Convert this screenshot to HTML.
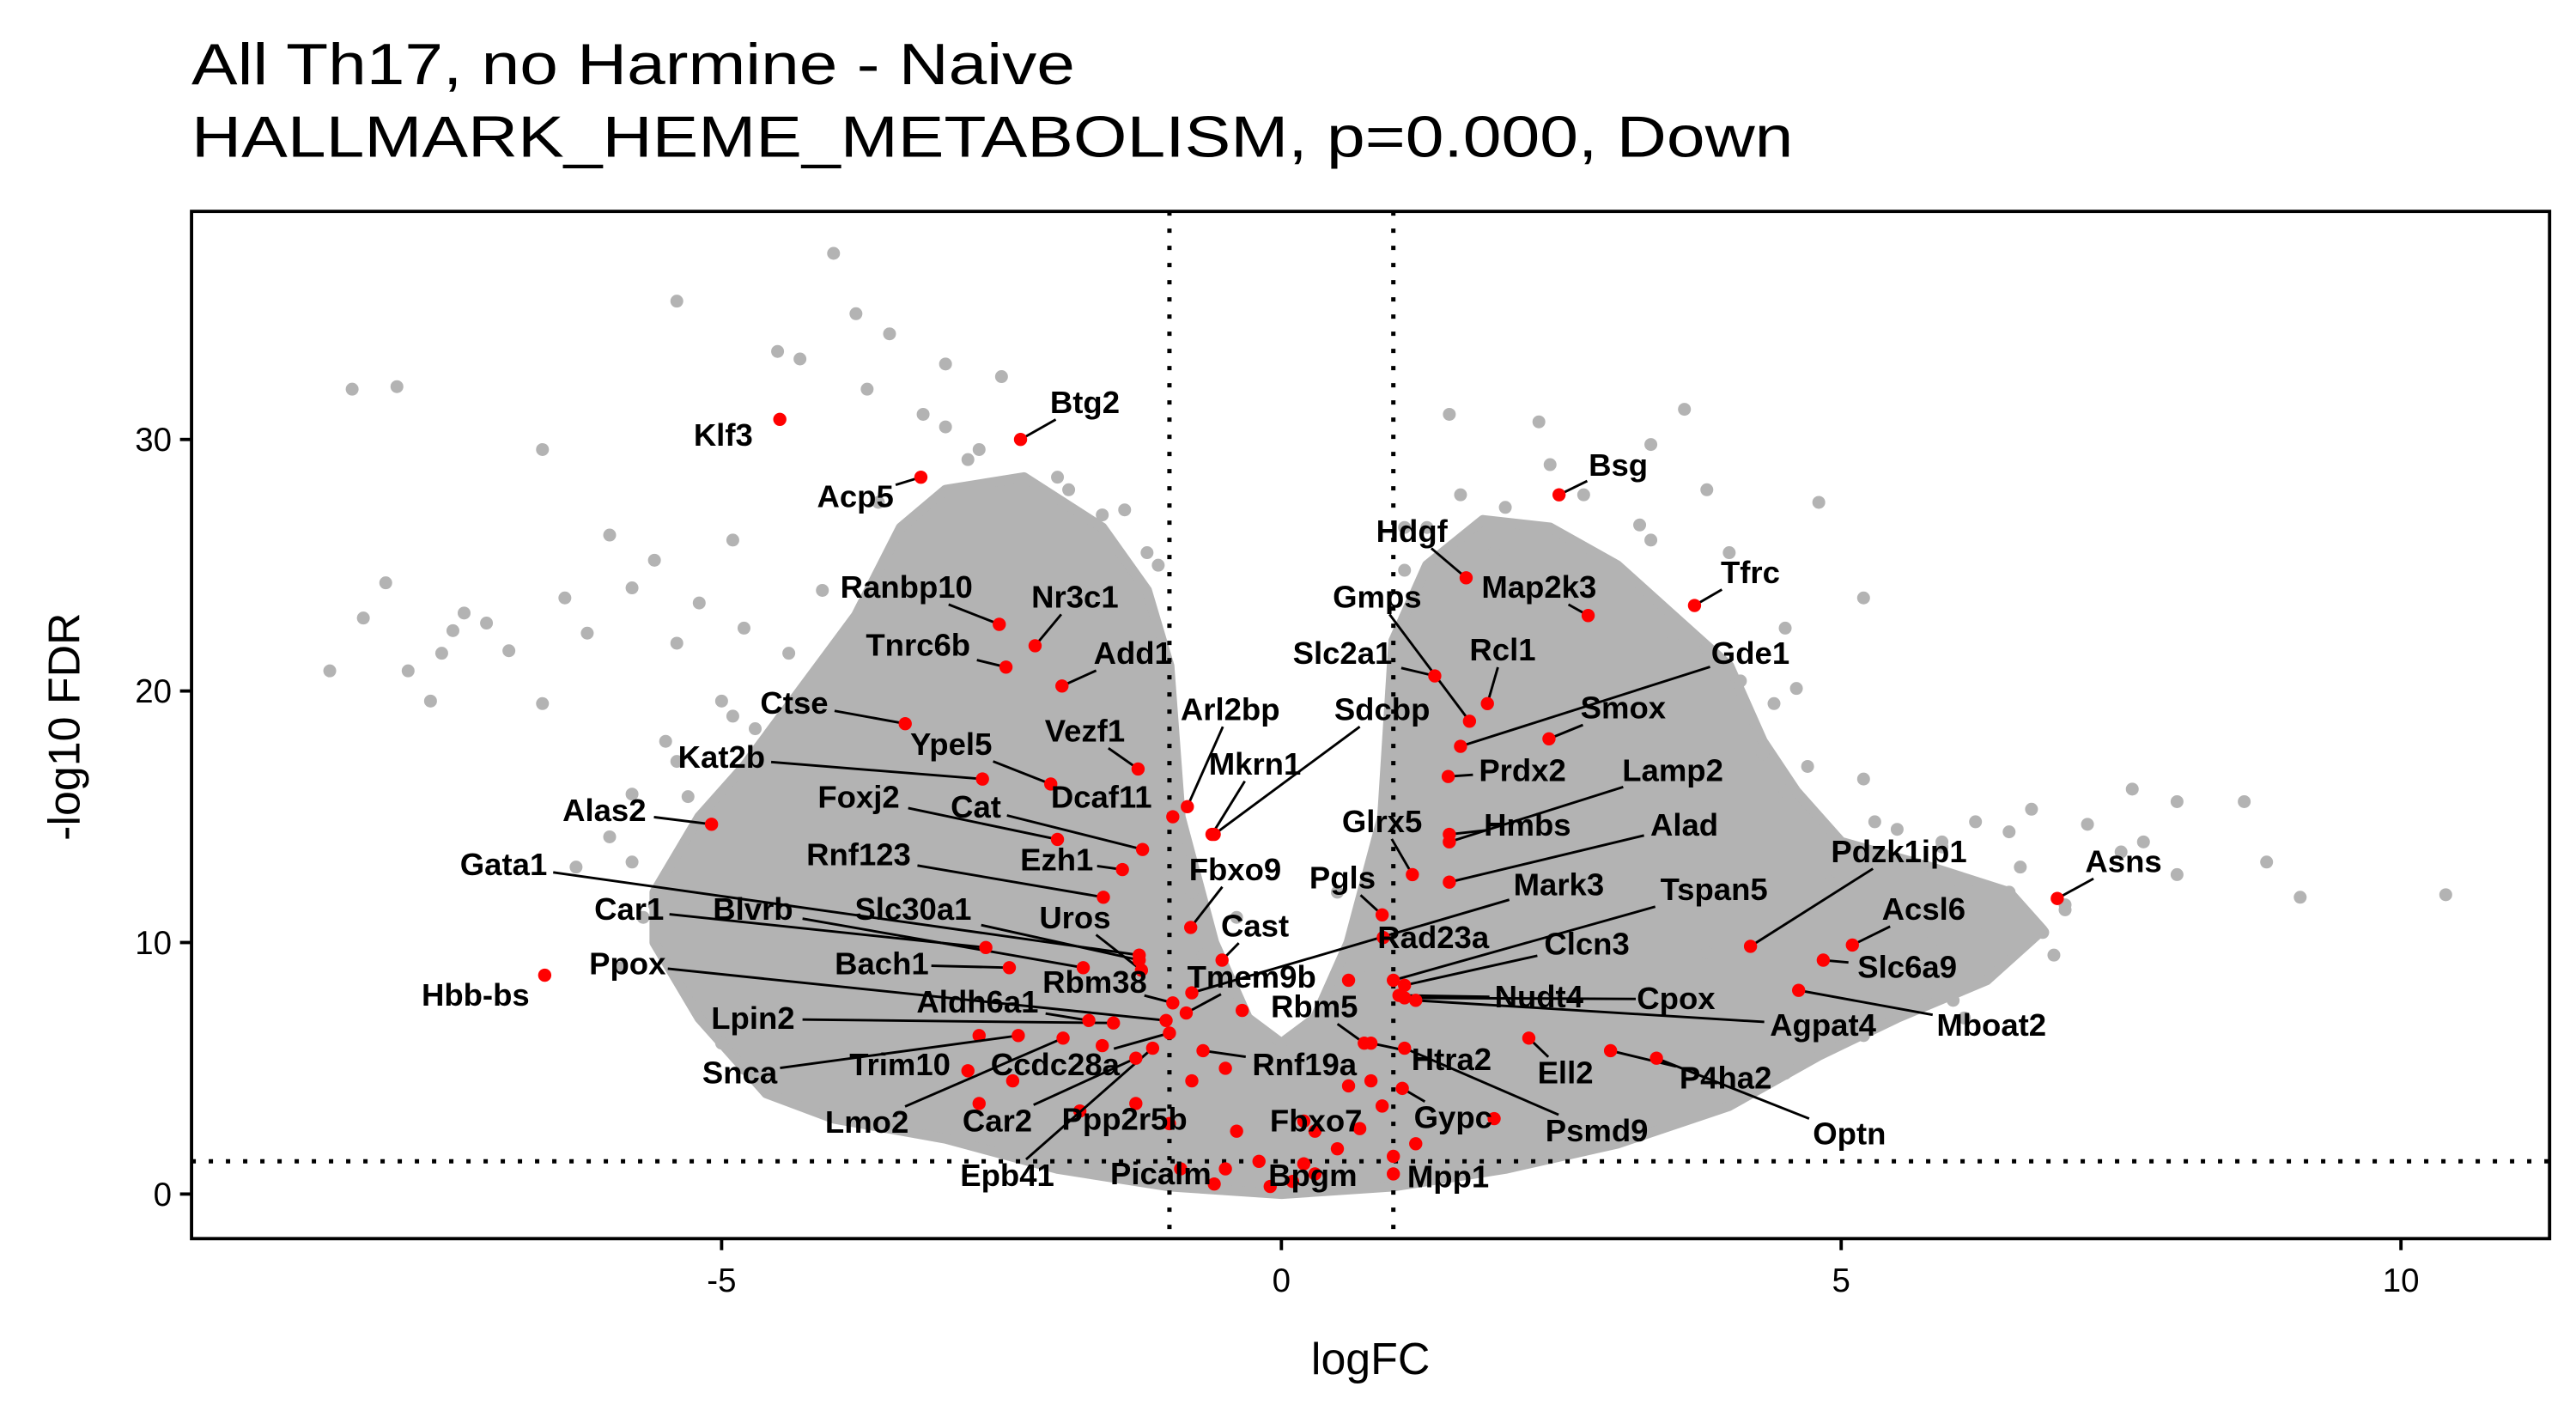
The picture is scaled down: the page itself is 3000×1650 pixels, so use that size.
<!DOCTYPE html>
<html><head><meta charset="utf-8"><style>
html,body{margin:0;padding:0;background:#fff}
svg{display:block}
</style></head><body>
<svg id="chart" width="3000" height="1650" viewBox="0 0 1560 858" xmlns="http://www.w3.org/2000/svg" font-family="Liberation Sans, Arial, sans-serif">
<text x="116" y="51" font-size="35" textLength="535" lengthAdjust="spacingAndGlyphs">All Th17, no Harmine - Naive</text>
<text x="116" y="95" font-size="35" textLength="970" lengthAdjust="spacingAndGlyphs">HALLMARK_HEME_METABOLISM, p=0.000, Down</text>
<g id="plot"></g>
<text x="830" y="832" font-size="27" text-anchor="middle">logFC</text>
<text transform="translate(48,440) rotate(-90)" font-size="27" text-anchor="middle">-log10 FDR</text>
</svg>
<script>
const xTicks=[-5,0,5,10];
const yTicks=[0,10,20,30];
const fcCut=[-1,1];
const fdrCut=[1.3];
// dense grey cloud outline (data coords)
const cloudX=[-4.6,-5.2,-5.6,-5.6,-5.2,-4.8,-4.3,-3.8,-3.4,-3.0,-2.3,-1.6,-1.2,-1.0,-0.9,-0.6,-0.3,0,0.3,0.6,0.9,1.0,1.3,1.8,2.4,3.0,3.5,4.0,4.3,4.6,5.0,5.8,6.5,6.8,6.3,5.5,4.8,4.0,3.0,2.0,1.0,0,-1.0,-2.0,-3.0,-4.0];
const cloudY=[4,7,10,12,15,17,20,23,26.5,28,28.5,26.5,24,21,15,10,7,6,7,10,15,22,25,26.8,26.5,25,23,21,18,16,14,13,12,10.5,8.5,7,5.5,3.5,2,1,0.3,0,0.3,1,2.2,3];
const greyX=[-8.5,-8.2,-8.0,-7.8,-7.6,-7.5,-7.4,-7.3,-7.1,-6.9,-6.6,-6.4,-6.2,-6.6,-8.3,-7.9,-6.0,-5.8,-5.6,-5.4,-5.2,-5.0,-5.5,-4.9,-4.8,-4.5,-5.4,-4.0,-3.8,-3.5,-3.0,-2.5,-4.3,-3.7,-3.2,-4.9,-5.8,-5.4,-6.0,-6.3,-5.6,-2.0,-1.6,-1.2,-3.0,-2.8,1.5,2.3,2.4,3.6,3.3,2.0,1.9,3.2,3.8,4.0,4.5,5.2,4.6,4.8,1.1,1.3,7.6,8.0,8.6,8.8,10.4,8.0,7.5,7.2,6.7,6.5,6.2,5.9,6.5,6.3,5.8,6.8,7.0,5.5,5.7,5.0,6.1,7.7,9.1,3.5,3.8,4.1,4.3,4.5,5.2,5.5,6.0,3.8,4.5,4.9,5.3,-0.7,0.7,-0.4,0.5,-5.9,-5.7,-5.8,-5.3,-4.7,-4.4,-4.1,-3.6,-2.7,-1.9,-1.4,-1.1,-0.8,0.8,1.1,1.6,2.7,3.3,4.4,4.7,5.3,5.9,6.6,7.0,6.9,6.0,5.2,4.5,-5.0,-4.8];
const greyY=[20.8,22.9,24.3,20.8,19.6,21.5,22.4,23.1,22.7,21.6,19.5,23.7,22.3,29.6,32,32.1,26.2,24.1,25.2,21.9,23.5,19.6,18.0,26.0,22.5,33.5,35.5,37.4,35.0,34.2,33.0,32.5,33.2,32,31,19.0,15.9,17.2,14.2,13.0,11.5,28.5,27.0,25.5,30.5,29.2,31,30.7,29,31.2,29.8,27.3,25.5,26.6,28.0,25.5,22.5,23.7,20.1,27.5,24.8,26.5,16.1,15.6,15.6,13.2,11.9,12.7,13.6,14.7,15.3,14.4,14.8,14.0,12.0,10.7,10.0,10.4,11.3,8.7,7.5,6.6,7.0,14.0,11.8,22.2,21.7,20.4,17.5,16.0,16.5,14.5,12.5,9.6,11.0,12.4,13.5,9.5,9.0,11.0,12.0,9.0,11.0,13.2,15.8,18.5,21.5,24.0,27.5,29.6,28.0,27.2,25.0,12.0,12.5,26.5,27.8,27.8,26.0,19.5,17.0,14.8,13.8,13.0,11.5,9.5,7.7,6.3,4.8,6.0,5.0];
const genes=["Klf3","Btg2","Acp5","Ranbp10","Nr3c1","Tnrc6b","Add1","Ctse","Vezf1","Ypel5","Kat2b","Alas2","Arl2bp","Mkrn1","Dcaf11","Sdcbp","Foxj2","Cat","Ezh1","Rnf123","Fbxo9","Glrx5","Pgls","Gata1","Car1","Blvrb","Slc30a1","Uros","Cast","Bach1","Hbb-bs","Ppox","Rbm38","Tmem9b","Mark3","Rad23a","Clcn3","Tspan5","Nudt4","Cpox","Agpat4","Mboat2","Slc6a9","Acsl6","Pdzk1ip1","Asns","Bsg","Tfrc","Hdgf","Map2k3","Gmps","Slc2a1","Rcl1","Gde1","Smox","Prdx2","Lamp2","Hmbs","Alad","Rbm5","Htra2","Ell2","P4ha2","Optn","Psmd9","Gypc","Mpp1","Bpgm","Fbxo7","Rnf19a","Picalm","Ppp2r5b","Epb41","Car2","Ccdc28a","Aldh6a1","Lpin2","Trim10","Snca","Lmo2"];
const geneFC=[-4.48,-2.33,-3.22,-2.52,-2.2,-2.46,-1.96,-3.36,-1.28,-2.06,-2.67,-5.09,-0.84,-0.62,-0.97,-0.6,-2.0,-1.24,-1.42,-1.59,-0.81,1.17,0.9,-1.27,-2.64,-1.77,-1.27,-1.25,-0.53,-2.43,-6.58,-1.03,-0.97,-0.85,-0.8,0.91,1.1,1.0,1.05,1.1,1.2,4.62,4.84,5.1,4.19,6.93,2.48,3.69,1.65,2.74,1.68,1.37,1.84,1.6,2.39,1.49,1.5,1.5,1.5,0.74,0.8,2.21,2.94,3.35,1.1,1.08,1.0,0.2,0.3,-0.7,-0.5,-1.0,-1.15,-1.3,-1.0,-1.72,-1.5,-2.8,-2.35,-1.95];
const geneFDR=[30.8,30.0,28.5,22.65,21.8,20.95,20.2,18.7,16.9,16.3,16.5,14.7,15.4,14.3,15.0,14.3,14.1,13.7,12.9,11.8,10.6,12.7,11.1,9.5,9.8,9.0,9.3,8.9,9.3,9.0,8.7,6.9,7.6,7.2,8.0,10.2,8.3,8.5,7.9,7.8,7.7,8.1,9.3,9.9,9.85,11.75,27.8,23.4,24.5,23.0,18.8,20.6,19.5,17.8,18.1,16.6,14.0,14.3,12.4,6.0,6.0,6.2,5.7,5.4,5.8,4.2,1.5,1.2,2.5,5.7,1.0,2.8,5.8,5.4,6.4,6.9,6.8,4.9,6.3,6.2];
const extraFC=[-2.7,-2.4,-1.8,-1.3,-0.8,-0.5,-0.4,-0.2,0.1,0.3,0.5,0.6,0.9,1.2,1.0,-0.6,-0.1,0.2,0.8,-0.35,0.6,-1.6,-2.7,1.9,0.7,-0.9];
const extraFDR=[3.6,4.5,3.3,3.6,4.5,5.0,2.5,1.3,0.5,0.8,1.8,4.3,3.5,2.0,0.8,0.4,0.3,2.9,4.5,7.3,8.5,5.9,6.3,3.0,2.6,1.0];
// label placement (layout, display px)
const labelPos=[[438,270],[657,250],[518,307],[549,362],[651,368],[556,397],[686,402],[481,432],[657,449],[576,457],[437,465],[366,497],[745,436],[760,469],[667,489],[837,436],[520,489],[591,495],[640,527],[520,524],[748,533],[837,504],[813,538],[305,530],[381,557],[456,557],[553,557],[651,562],[760,567],[534,590],[288,609],[380,590],[663,601],[758,598],[944,542],[868,574],[961,578],[1038,545],[932,610],[1015,611],[1104,627],[1206,627],[1155,592],[1165,557],[1150,522],[1286,528],[980,288],[1060,353],[855,328],[932,362],[834,368],[813,402],[910,400],[1060,402],[983,435],[922,473],[1013,473],[925,506],[1020,506],[796,616],[879,648],[948,656],[1045,659],[1120,693],[967,691],[880,683],[877,719],[795,718],[797,685],[790,651],[703,717],[681,684],[610,718],[604,685],[639,651],[592,613],[456,623],[545,651],[448,656],[525,686]];

const L=116,R=1544,T=128,B=750;
const sx=v=>776+67.8*v;
const sy=v=>723-15.23*v;
const NS="http://www.w3.org/2000/svg";
const g=document.getElementById('plot');
function mk(tag,attrs,parent){const e=document.createElementNS(NS,tag);for(const k in attrs)e.setAttribute(k,attrs[k]);(parent||g).appendChild(e);return e;}

let pts=cloudX.map((x,i)=>sx(x)+','+sy(cloudY[i])).join(' ');
const cl=mk('polygon',{points:pts,fill:'#b3b3b3',stroke:'#b3b3b3','stroke-width':6,'stroke-linejoin':'round'});


greyX.forEach((x,i)=>{
  const c=mk('circle',{cx:sx(x),cy:sy(greyY[i]),r:3.9,fill:'#b3b3b3'});
  
  
});
fcCut.forEach(v=>{
  const l=mk('line',{x1:sx(v),x2:sx(v),y1:T,y2:B,stroke:'#000','stroke-width':2.6,'stroke-dasharray':'2.6 7.8'});
  
  
});
fdrCut.forEach(v=>{
  const l=mk('line',{x1:L,x2:R,y1:sy(v),y2:sy(v),stroke:'#000','stroke-width':2.6,'stroke-dasharray':'2.6 7.8'});
  
  
});
extraFC.forEach((x,i)=>{
  const c=mk('circle',{cx:sx(x),cy:sy(extraFDR[i]),r:4,fill:'#ff0000'});
  
  
});
genes.forEach((n,i)=>{
  const px=sx(geneFC[i]),py=sy(geneFDR[i]);
  const [lx,ly]=labelPos[i];const cy=ly-6;
  const hw=n.length*5.6+2,hh=10;
  const dx=px-lx,dy=py-cy;
  let t=Math.min(dx?hw/Math.abs(dx):1e9,dy?hh/Math.abs(dy):1e9);
  if(t<1){
    const ex=lx+dx*t,ey=cy+dy*t;
    const d=Math.hypot(px-ex,py-ey);
    if(d>12){
      const s=mk('line',{x1:ex,y1:ey,x2:px,y2:py,stroke:'#000','stroke-width':1.5});
      
      
    }
  }
});
genes.forEach((n,i)=>{
  const c=mk('circle',{cx:sx(geneFC[i]),cy:sy(geneFDR[i]),r:4,fill:'#ff0000'});
  
  
});
genes.forEach((n,i)=>{
  const t=mk('text',{x:labelPos[i][0],y:labelPos[i][1],'font-size':19,'font-weight':'bold','text-anchor':'middle'});
  t.textContent=n;
  
  
});
const fr=mk('rect',{x:L,y:T,width:R-L,height:B-T,fill:'none',stroke:'#000','stroke-width':2});


xTicks.forEach(v=>{
  const tk=mk('line',{x1:sx(v),x2:sx(v),y1:B,y2:B+7,stroke:'#000','stroke-width':2});
  
  
  const tl=mk('text',{x:sx(v),y:B+32,'font-size':20,'text-anchor':'middle',fill:'#000'});
  tl.textContent=v;
  
  
});
yTicks.forEach(v=>{
  const tk=mk('line',{x1:L-7,x2:L,y1:sy(v),y2:sy(v),stroke:'#000','stroke-width':2});
  
  
  const tl=mk('text',{x:L-12,y:sy(v)+7,'font-size':20,'text-anchor':'end',fill:'#000'});
  tl.textContent=v;
  
  
});
</script>
</body></html>
